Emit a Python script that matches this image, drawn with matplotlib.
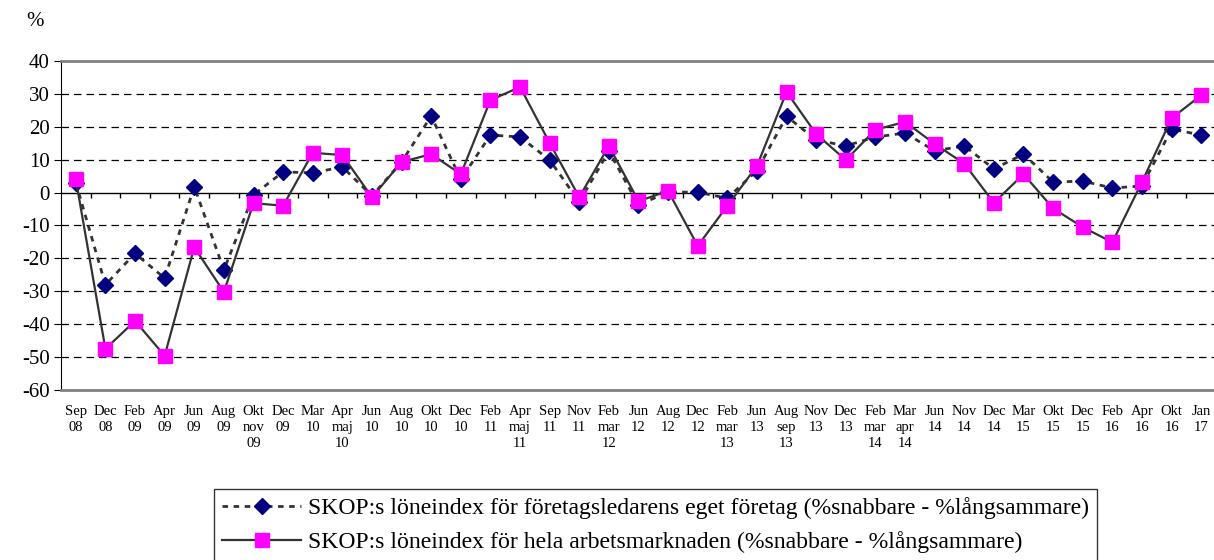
"""SKOP löneindex: eget företag vs hela arbetsmarknaden."""

from matplotlib import pyplot as plt
import numpy as np

labels = [
    'Sep\n08', 'Dec\n08', 'Feb\n09', 'Apr\n09', 'Jun\n09', 'Aug\n09',
    'Okt\nnov\n09', 'Dec\n09', 'Mar\n10', 'Apr\nmaj\n10', 'Jun\n10',
    'Aug\n10', 'Okt\n10', 'Dec\n10', 'Feb\n11', 'Apr\nmaj\n11', 'Sep\n11',
    'Nov\n11', 'Feb\nmar\n12', 'Jun\n12', 'Aug\n12', 'Dec\n12',
    'Feb\nmar\n13', 'Jun\n13', 'Aug\nsep\n13', 'Nov\n13', 'Dec\n13',
    'Feb\nmar\n14', 'Mar\napr\n14', 'Jun\n14', 'Nov\n14', 'Dec\n14',
    'Mar\n15', 'Okt\n15', 'Dec\n15', 'Feb\n16', 'Apr\n16', 'Okt\n16',
    'Jan\n17',
]

# eget företag (% snabbare - % långsammare)
eget = [3, -28, -18.5, -26, 1.8, -23.5, -0.7, 6.3, 6, 7.8, -1, 9.3,
        23.3, 4, 17.5, 16.9, 9.9, -2.8, 12.6, -3.8, 0.2, 0.1, -1.7,
        6.7, 23.2, 16, 14.2, 16.9, 18.1, 12.7, 14.2, 7.2, 11.7, 3.2,
        3.5, 1.4, 2, 19.3, 17.5]

# hela arbetsmarknaden
hela = [4, -47.5, -39, -49.6, -16.6, -30.2, -3.2, -4, 12.1, 11.4, -1.4,
        9.3, 11.7, 5.6, 28.1, 32.1, 15.1, -1.4, 14.2, -2.6, 0.5, -16.2,
        -4, 8.1, 30.6, 17.8, 9.9, 19.1, 21.5, 14.8, 8.8, -3.1, 5.6, -4.8,
        -10.5, -15.1, 3.2, 22.6, 29.6]

legend_labels = [
    'SKOP:s löneindex för företagsledarens eget företag (%snabbare - %långsammare)',
    'SKOP:s löneindex för hela arbetsmarknaden (%snabbare - %långsammare)',
]

plt.rcParams['font.family'] = ['Liberation Serif', 'DejaVu Serif']
plt.rcParams['axes.unicode_minus'] = False

fig = plt.figure(figsize=(12.14, 5.6), dpi=100)
ax = fig.add_axes([61 / 1214, 1 - 390 / 560, 1155 / 1214, 329 / 560])

x = np.arange(len(labels))

l1, = ax.plot(x, eget, color='#333333', lw=2, ls=(0, (2, 2)),
              marker='D', ms=8.5, mfc='#000080', mec='#000080', zorder=3)
l2, = ax.plot(x, hela, color='#333333', lw=1.6, ls='-',
              marker='s', ms=10, mfc='#ff00ff', mec='#ff00ff', zorder=4)

ax.set_xlim(-0.5, len(labels) - 0.5)
ax.set_ylim(-60, 40)
ax.set_yticks(np.arange(-60, 41, 10))
ax.tick_params(axis='y', labelsize=15, length=5, direction='out', pad=3)
ax.set_xticks(x)
ax.set_xticklabels(labels, fontsize=10.5, linespacing=1.3, va='top')
ax.tick_params(axis='x', length=0, pad=11)

for yv in range(-50, 31, 10):
    if yv != 0:
        ax.axhline(yv, color='black', lw=0.9, ls=(0, (6, 4)), zorder=1)
ax.axhline(0, color='black', lw=1, zorder=2)
bounds = np.arange(len(labels) + 1) - 0.5
ax.vlines(bounds[1:-1], -1.6, 0, color='black', lw=1, zorder=2)

ax.spines['left'].set_color('black')
ax.spines['top'].set_color('#808080')
ax.spines['top'].set_linewidth(2)
ax.spines['bottom'].set_color('#808080')
ax.spines['bottom'].set_linewidth(2)
ax.spines['right'].set_visible(False)

fig.text(35 / 1214, 1 - 22 / 560, '%', fontsize=15, ha='center', va='center')

leg = fig.legend([l1, l2], legend_labels, loc='upper left',
                 bbox_to_anchor=(214 / 1214, 1 - 489 / 560),
                 fontsize=17.1, frameon=True, fancybox=False,
                 edgecolor='black', handlelength=3.3, borderpad=0.35,
                 labelspacing=0.5, handletextpad=0.3, borderaxespad=0)
leg.get_frame().set_linewidth(1)

fig.savefig('out.png', dpi=100)
